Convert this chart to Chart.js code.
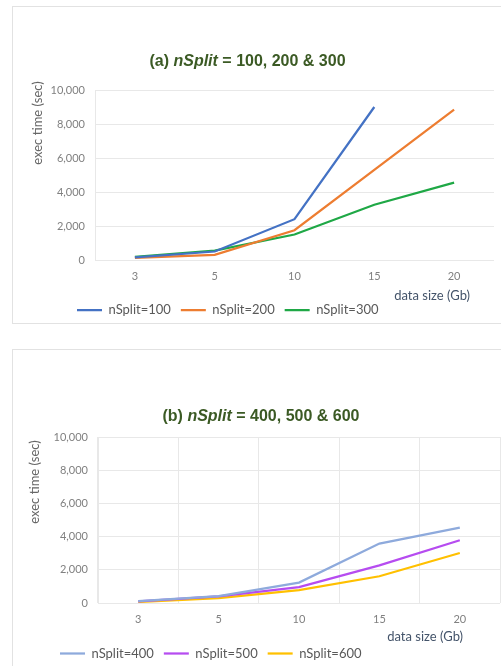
<!DOCTYPE html>
<html>
<head>
<meta charset="utf-8">
<title>exec time vs data size</title>
<script src="https://cdn.jsdelivr.net/npm/chart.js@4.4.1/dist/chart.umd.min.js"></script>
<style>
  html, body { margin: 0; padding: 0; background: #ffffff; width: 501px; height: 666px; overflow: hidden; }
  .card { position: absolute; left: 12px; width: 530px; border: 1px solid #e2e2e2; box-sizing: border-box; }
  #cardA { top: 6px; height: 318px; }
  #cardB { top: 349px; height: 340px; }
  canvas { position: absolute; left: 0; top: 0; width: 501px; height: 666px; }
</style>
</head>
<body>
<div class="card" id="cardA"></div>
<div class="card" id="cardB"></div>
<canvas id="chartA" width="501" height="666"></canvas>
<canvas id="chartB" width="501" height="666"></canvas>
<script>
// data size (Gb) on the x axis
const sizes = ['3', '5', '10', '15', '20'];

// panel (a): execution time in seconds
const splitA = ['nSplit=100', 'nSplit=200', 'nSplit=300'];
const time100 = [150, 500, 2400, 9000, null];
const time200 = [120, 300, 1750, 5300, 8850];
const time300 = [180, 550, 1500, 3250, 4550];

// panel (b): execution time in seconds
const splitB = ['nSplit=400', 'nSplit=500', 'nSplit=600'];
const time400 = [120, 420, 1230, 3580, 4540];
const time500 = [100, 400, 960, 2270, 3780];
const time600 = [60, 300, 770, 1610, 3010];

// y axis tick values
const timeTicks = [0, 2000, 4000, 6000, 8000, 10000];

Chart.defaults.font.family = 'Lato, "Open Sans", sans-serif';
Chart.defaults.color = '#595959';

// heading (with italic parameter name) and axis titles
const panelText = {
  id: 'panelText',
  afterDraw(chart, args, o) {
    const ctx = chart.ctx;
    ctx.save();
    const fonts = o.heading.map(p => (p.italic ? 'italic ' : '') + 'bold 16px "Liberation Sans", Arial, sans-serif');
    let total = 0;
    const widths = o.heading.map((p, i) => {
      ctx.font = fonts[i];
      const w = ctx.measureText(p.text).width;
      total += w;
      return w;
    });
    let x = o.headingX - total / 2;
    ctx.fillStyle = '#3b5a24';
    ctx.textBaseline = 'middle';
    ctx.textAlign = 'left';
    o.heading.forEach((p, i) => {
      ctx.font = fonts[i];
      ctx.fillText(p.text, x, o.headingY);
      x += widths[i];
    });

    ctx.font = '13px Lato, "Open Sans", sans-serif';
    ctx.fillStyle = '#44546a';
    ctx.textAlign = 'right';
    ctx.fillText(o.xTitle, o.xTitleX, o.xTitleY);

    ctx.translate(o.yTitleX, o.yTitleY);
    ctx.rotate(-Math.PI / 2);
    ctx.textAlign = 'center';
    ctx.fillStyle = '#666666';
    ctx.fillText(o.yTitle, 0, 0);
    ctx.restore();
  }
};

// moves the legend row under the left part of the plot
const legendPlace = {
  id: 'legendPlace',
  afterLayout(chart, args, o) {
    const lg = chart.legend;
    const w = lg.width, h = lg.height;
    lg.left = o.x; lg.right = o.x + w;
    lg.top = o.y; lg.bottom = o.y + h;
  }
};

function lineSet(label, data, color) {
  return {
    label, data,
    borderColor: color,
    backgroundColor: color,
    borderWidth: 2.25,
    pointRadius: 0,
    pointHoverRadius: 0,
    tension: 0,
    spanGaps: false
  };
}

function makeChart(id, sets, cfg) {
  return new Chart(document.getElementById(id), {
    type: 'line',
    data: { labels: sizes, datasets: sets },
    plugins: [panelText, legendPlace],
    options: {
      responsive: false,
      animation: false,
      layout: { padding: cfg.padding },
      plugins: {
        title: { display: false },
        tooltip: { enabled: false },
        legend: {
          display: true,
          position: 'bottom',
          align: 'start',
          labels: {
            usePointStyle: true,
            pointStyle: 'line',
            pointStyleWidth: 25,
            padding: 10,
            color: '#595959',
            font: { size: 13 }
          }
        },
        legendPlace: cfg.legend,
        panelText: cfg.text
      },
      scales: {
        x: {
          type: 'category',
          offset: true,
          grid: { display: cfg.vGrid, offset: true, drawTicks: false, color: '#e8e8e8' },
          border: { display: false },
          ticks: { padding: 10, color: '#808080', font: { size: 11 } },
          afterFit: s => { s.height = 30; }
        },
        y: {
          min: 0,
          max: 10000,
          grid: { color: '#e8e8e8', drawTicks: false },
          border: { display: true, color: '#e8e8e8' },
          ticks: { padding: 10, color: '#808080', font: { size: 11 } },
          afterBuildTicks: s => { s.ticks = timeTicks.map(v => ({ value: v })); },
          afterFit: s => { s.width = cfg.yWidth; }
        }
      }
    }
  });
}

makeChart('chartA', [
  lineSet(splitA[0], time100, '#4472c4'),
  lineSet(splitA[1], time200, '#ed7d31'),
  lineSet(splitA[2], time300, '#1fa846')
], {
  padding: { top: 90, right: 7, bottom: 343, left: 20 },
  yWidth: 75,
  vGrid: false,
  legend: { x: 67, y: 293.5 },
  text: {
    heading: [{ text: '(a) ' }, { text: 'nSplit', italic: true }, { text: ' = 100, 200 & 300' }],
    headingX: 247.5, headingY: 62,
    xTitle: 'data size (Gb)', xTitleX: 470, xTitleY: 296,
    yTitle: 'exec time (sec)', yTitleX: 38, yTitleY: 123
  }
});

makeChart('chartB', [
  lineSet(splitB[0], time400, '#8eaadc'),
  lineSet(splitB[1], time500, '#b64cf0'),
  lineSet(splitB[2], time600, '#ffc000')
], {
  padding: { top: 437, right: 1, bottom: 0, left: 20 },
  yWidth: 78,
  vGrid: true,
  legend: { x: 50, y: 637 },
  text: {
    heading: [{ text: '(b) ' }, { text: 'nSplit', italic: true }, { text: ' = 400, 500 & 600' }],
    headingX: 261, headingY: 417,
    xTitle: 'data size (Gb)', xTitleX: 463, xTitleY: 637,
    yTitle: 'exec time (sec)', yTitleX: 35, yTitleY: 482
  }
});
</script>
</body>
</html>
